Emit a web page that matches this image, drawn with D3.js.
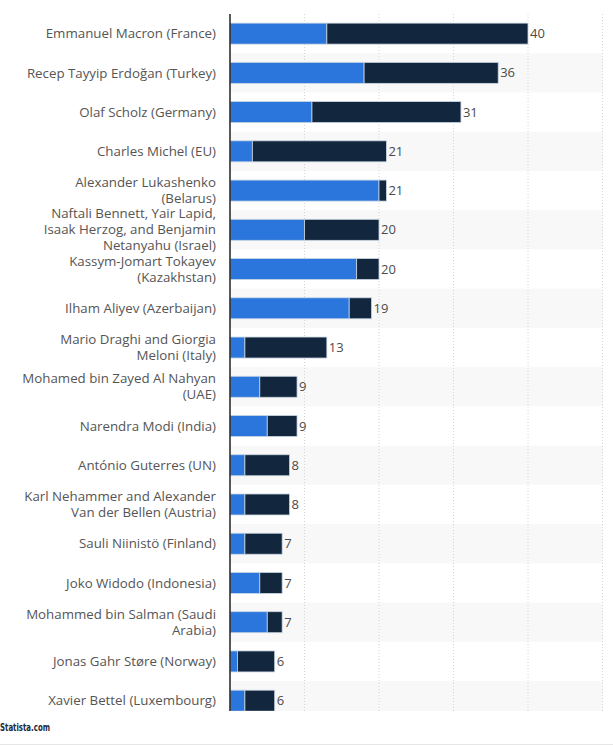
<!DOCTYPE html>
<html>
<head>
<meta charset="utf-8">
<script src="https://cdn.jsdelivr.net/npm/d3@7"></script>
<style>
  body { margin: 0; background: #fff; }
  text { font-family: "Open Sans", sans-serif; }
</style>
</head>
<body>
<div id="viz"></div>
<script>
//-------Data-----------
var leaders = [
  "Emmanuel Macron (France)",
  "Recep Tayyip Erdoğan (Turkey)",
  "Olaf Scholz (Germany)",
  "Charles Michel (EU)",
  "Alexander Lukashenko\n(Belarus)",
  "Naftali Bennett, Yair Lapid,\nIsaak Herzog, and Benjamin\nNetanyahu (Israel)",
  "Kassym-Jomart Tokayev\n(Kazakhstan)",
  "Ilham Aliyev (Azerbaijan)",
  "Mario Draghi and Giorgia\nMeloni (Italy)",
  "Mohamed bin Zayed Al Nahyan\n(UAE)",
  "Narendra Modi (India)",
  "António Guterres (UN)",
  "Karl Nehammer and Alexander\nVan der Bellen (Austria)",
  "Sauli Niinistö (Finland)",
  "Joko Widodo (Indonesia)",
  "Mohammed bin Salman (Saudi\nArabia)",
  "Jonas Gahr Støre (Norway)",
  "Xavier Bettel (Luxembourg)"
];
var inPerson = [13, 18, 11, 3, 20, 10, 17, 16, 2, 4, 5, 2, 2, 2, 4, 5, 1, 2];
var byPhone  = [27, 18, 20, 18, 1, 10, 3, 3, 11, 5, 4, 6, 6, 5, 3, 2, 5, 4];
var xTicks = [0, 10, 20, 30, 40, 50];

var colors = ["#2a76dc", "#12263d"];

//---------------------------------
var width = 613,
    height = 747;
var margin = {top: 14, left: 230};
var plotWidth = 372.5;
var plotHeight = 697;      // visible plot area (chart is cut off at the bottom)
var bandsHeight = 706.3;   // full height of the 18 rows

var svg = d3.select("#viz")
  .append("svg")
    .attr("width", width)
    .attr("height", height);

svg.append("defs").append("clipPath")
    .attr("id", "plot-clip")
  .append("rect")
    .attr("x", -margin.left)
    .attr("y", -margin.top)
    .attr("width", width)
    .attr("height", margin.top + plotHeight);

var container = svg.append("g")
    .attr("transform", "translate(" + margin.left + "," + margin.top + ")")
    .attr("clip-path", "url(#plot-clip)");

var rows = leaders.map(function(name, i) {
  return {name: name, a: inPerson[i], b: byPhone[i]};
});

var xScale = d3.scaleLinear()
    .domain([0, 50])
    .range([0, plotWidth]);

var yScale = d3.scaleBand()
    .domain(leaders)
    .range([0, bandsHeight])
    .paddingInner(0.465)
    .paddingOuter(0.2325);

var rowScale = d3.scaleBand()
    .domain(leaders)
    .range([0, bandsHeight]);

// striped rows
container.append("g")
  .selectAll("rect")
  .data(rows.filter(function(d, i) { return i % 2 === 1; }))
  .enter()
  .append("rect")
    .attr("x", 0)
    .attr("width", xScale(50))
    .attr("y", function(d) { return rowScale(d.name); })
    .attr("height", rowScale.bandwidth())
    .style("fill", "#f8f8f8");

// grid lines
container.append("g")
  .selectAll("line")
  .data(xTicks.slice(1))
  .enter()
  .append("line")
    .attr("x1", function(d) { return xScale(d); })
    .attr("x2", function(d) { return xScale(d); })
    .attr("y1", 0)
    .attr("y2", plotHeight)
    .style("stroke", "#d4d4d4")
    .style("stroke-width", 1)
    .style("stroke-dasharray", "1,2");

//------Bars--------------------
var bars = container.append("g");

bars.selectAll("rect.a")
  .data(rows)
  .enter()
  .append("rect")
    .attr("class", "a")
    .attr("x", xScale(0))
    .attr("y", function(d) { return yScale(d.name); })
    .attr("width", function(d) { return xScale(d.a) - xScale(0); })
    .attr("height", yScale.bandwidth())
    .style("fill", colors[0])
    .style("stroke", "#c9d6e3")
    .style("stroke-width", 0.8);

bars.selectAll("rect.b")
  .data(rows)
  .enter()
  .append("rect")
    .attr("class", "b")
    .attr("x", function(d) { return xScale(d.a); })
    .attr("y", function(d) { return yScale(d.name); })
    .attr("width", function(d) { return xScale(d.a + d.b) - xScale(d.a); })
    .attr("height", yScale.bandwidth())
    .style("fill", colors[1])
    .style("stroke", "#c9d6e3")
    .style("stroke-width", 0.8);

// value labels
bars.selectAll("text")
  .data(rows)
  .enter()
  .append("text")
    .attr("x", function(d) { return xScale(d.a + d.b) + 2; })
    .attr("y", function(d) { return yScale(d.name) + yScale.bandwidth() / 2; })
    .attr("dy", "0.35em")
    .style("font-size", "13px")
    .style("fill", "#4b4b4b")
    .text(function(d) { return d.a + d.b; });

//------Y axis labels-----------
var yAxis = d3.axisLeft(yScale).tickSize(0).tickPadding(14);
var gYAxis = svg.append("g")
    .attr("transform", "translate(" + margin.left + "," + margin.top + ")")
    .call(yAxis);
gYAxis.select(".domain").remove();
gYAxis.selectAll(".tick text")
    .style("font-family", "'Open Sans', sans-serif")
    .style("font-size", "13.3px")
    .style("fill", "#555")
    .each(function(d) {
      var el = d3.select(this);
      var lines = d.split("\n");
      el.text(null).attr("dy", null);
      var lh = 16;
      var start = -(lines.length - 1) * lh / 2;
      lines.forEach(function(line, k) {
        el.append("tspan")
          .attr("x", -14)
          .attr("y", start + k * lh)
          .attr("dy", "0.35em")
          .text(line);
      });
    });

// axis line
container.append("line")
    .attr("x1", 0).attr("x2", 0)
    .attr("y1", 0).attr("y2", plotHeight)
    .style("stroke", "#222")
    .style("stroke-width", 1.5);

// footer
svg.append("text")
    .attr("x", 0)
    .attr("y", 731)
    .attr("textLength", 50)
    .attr("lengthAdjust", "spacingAndGlyphs")
    .style("font-family", "'DejaVu Sans Condensed', 'Liberation Sans Narrow', sans-serif")
    .style("font-size", "11px")
    .style("font-weight", "bold")
    .style("fill", "#1a2a3a")
    .text("Statista.com");

svg.append("line")
    .attr("x1", 0).attr("x2", width)
    .attr("y1", 744.5).attr("y2", 744.5)
    .style("stroke", "#e6e6e6")
    .style("stroke-width", 1);
</script>
</body>
</html>
